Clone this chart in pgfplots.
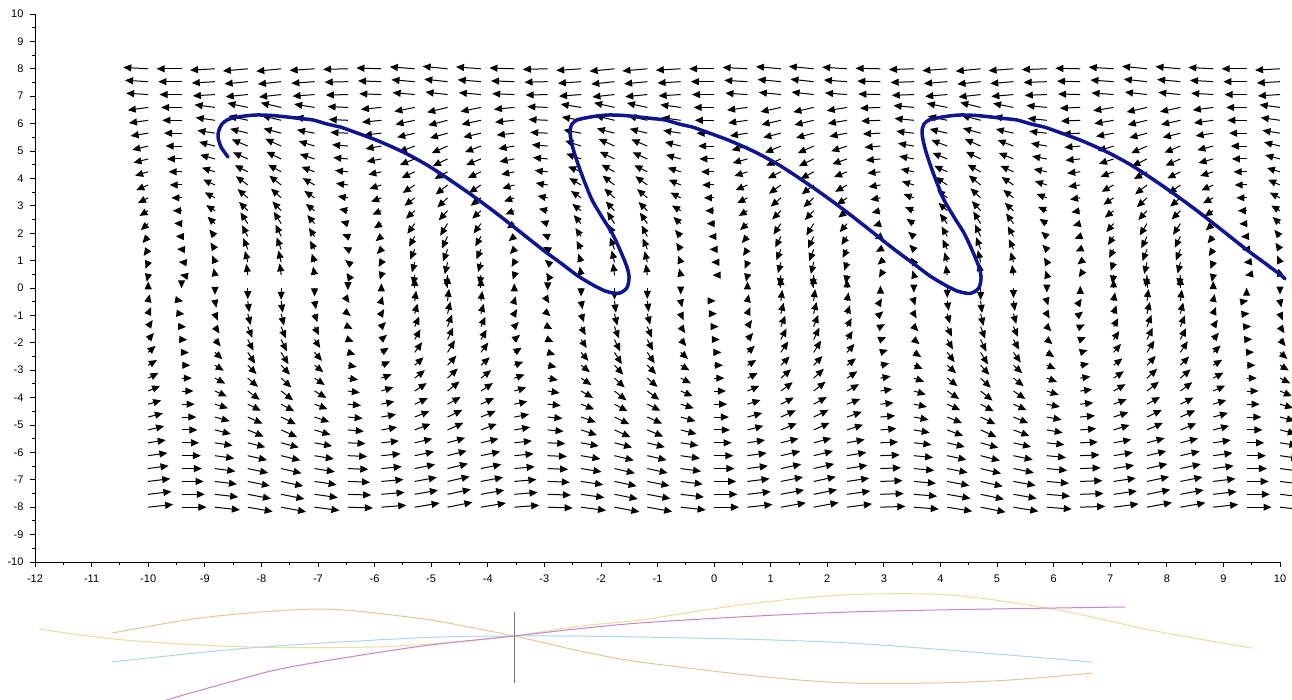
\documentclass[border=0pt]{standalone}
\usepackage{fontspec}
\setmainfont{Liberation Sans}
\usepackage{pgfplots}
\pgfplotsset{compat=1.18}
\usetikzlibrary{arrows.meta}
\definecolor{traj}{RGB}{15,20,145}
\definecolor{cylw}{RGB}{232,222,160}
\definecolor{corg}{RGB}{232,195,150}
\definecolor{cblu}{RGB}{172,212,235}
\definecolor{cpnk}{RGB}{205,130,195}
\definecolor{cgry}{RGB}{120,120,120}
\begin{document}
\begin{tikzpicture}
\begin{axis}[at={(0pt,0pt)},anchor=south west,scale only axis,width=1292pt,height=700pt,
  xmin=0,xmax=1292,ymin=0,ymax=700,y dir=reverse,hide axis,clip=false]
\addplot[cylw,line width=1pt,smooth] coordinates {(39,629) (124,640) (249,647) (373,647) (456,642) (514,636) (580,626) (640,620) (740,605) (841,595) (950,595) (1058,610) (1150,630) (1251,648)};
\addplot[corg,line width=1pt,smooth] coordinates {(112,633) (200,618) (290,610) (344,610) (430,620) (514,636) (580,651) (640,662) (766,677) (849,683) (933,683) (1010,680) (1092,673)};
\addplot[cblu,line width=1pt,smooth] coordinates {(112,662) (249,648) (415,638) (514,636) (640,637) (849,643) (1092,662)};
\addplot[cpnk,line width=1pt,smooth] coordinates {(166,700) (230,682) (290,667) (415,647) (514,636) (640,623) (849,612) (1125,607)};
\addplot[cgry,line width=1pt] coordinates {(514,612) (514,683)};
\end{axis}
\begin{axis}[at={(35pt,138pt)},anchor=south west,scale only axis,width=1245pt,height=548pt,
  xmin=-12,xmax=10,ymin=-10,ymax=10,
  axis x line*=bottom, axis y line*=left,
  xtick={-12,-11,...,10}, ytick={-10,-9,...,10},
  xticklabels={-12,-11,-10,-9,-8,-7,-6,-5,-4,-3,-2,-1,0,1,2,3,4,5,6,7,8,9,10},
  yticklabels={-10,-9,-8,-7,-6,-5,-4,-3,-2,-1,0,1,2,3,4,5,6,7,8,9,10},
  minor x tick num=1, minor y tick num=1,
  tick align=outside, major tick length=5pt, minor tick length=3pt,
  tick style={black,line width=0.8pt}, axis line style={black,line width=0.8pt},
  ticklabel style={font=\fontsize{11}{12}\selectfont},
  xticklabel style={yshift=-4pt}, yticklabel style={xshift=-3pt},
  clip=false]
\addplot[black,line width=1pt,quiver={u=\thisrow{u},v=\thisrow{v},every arrow/.append style={-{Triangle[length=8pt,width=7pt]}}}] table {
x y u v
-10 -8 0.44 0.1
-9.41 -8 0.44 0
-8.82 -8 0.44 -0.1
-8.24 -8 0.44 -0.16
-7.65 -8 0.44 -0.17
-7.06 -8 0.44 -0.12
-6.47 -8 0.44 -0.03
-5.88 -8 0.44 0.07
-5.29 -8 0.44 0.15
-4.71 -8 0.44 0.18
-4.12 -8 0.44 0.15
-3.53 -8 0.44 0.07
-2.94 -8 0.44 -0.03
-2.35 -8 0.44 -0.12
-1.76 -8 0.44 -0.17
-1.18 -8 0.44 -0.16
-0.59 -8 0.44 -0.1
0 -8 0.44 0
0.59 -8 0.44 0.1
1.18 -8 0.44 0.16
1.76 -8 0.44 0.17
2.35 -8 0.44 0.12
2.94 -8 0.44 0.03
3.53 -8 0.44 -0.07
4.12 -8 0.44 -0.15
4.71 -8 0.44 -0.18
5.29 -8 0.44 -0.15
5.88 -8 0.44 -0.07
6.47 -8 0.44 0.03
7.06 -8 0.44 0.12
7.65 -8 0.44 0.17
8.24 -8 0.44 0.16
8.82 -8 0.44 0.1
9.41 -8 0.44 0
10 -8 0.44 -0.1
-10 -7.53 0.41 0.1
-9.41 -7.53 0.41 0
-8.82 -7.53 0.41 -0.1
-8.24 -7.53 0.41 -0.16
-7.65 -7.53 0.41 -0.17
-7.06 -7.53 0.41 -0.12
-6.47 -7.53 0.41 -0.03
-5.88 -7.53 0.41 0.07
-5.29 -7.53 0.41 0.15
-4.71 -7.53 0.41 0.18
-4.12 -7.53 0.41 0.15
-3.53 -7.53 0.41 0.07
-2.94 -7.53 0.41 -0.03
-2.35 -7.53 0.41 -0.12
-1.76 -7.53 0.41 -0.17
-1.18 -7.53 0.41 -0.16
-0.59 -7.53 0.41 -0.1
0 -7.53 0.41 0
0.59 -7.53 0.41 0.1
1.18 -7.53 0.41 0.16
1.76 -7.53 0.41 0.17
2.35 -7.53 0.41 0.12
2.94 -7.53 0.41 0.03
3.53 -7.53 0.41 -0.07
4.12 -7.53 0.41 -0.15
4.71 -7.53 0.41 -0.18
5.29 -7.53 0.41 -0.15
5.88 -7.53 0.41 -0.07
6.47 -7.53 0.41 0.03
7.06 -7.53 0.41 0.12
7.65 -7.53 0.41 0.17
8.24 -7.53 0.41 0.16
8.82 -7.53 0.41 0.1
9.41 -7.53 0.41 0
10 -7.53 0.41 -0.1
-10 -7.06 0.39 0.1
-9.41 -7.06 0.39 0
-8.82 -7.06 0.39 -0.1
-8.24 -7.06 0.39 -0.16
-7.65 -7.06 0.39 -0.17
-7.06 -7.06 0.39 -0.12
-6.47 -7.06 0.39 -0.03
-5.88 -7.06 0.39 0.07
-5.29 -7.06 0.39 0.15
-4.71 -7.06 0.39 0.18
-4.12 -7.06 0.39 0.15
-3.53 -7.06 0.39 0.07
-2.94 -7.06 0.39 -0.03
-2.35 -7.06 0.39 -0.12
-1.76 -7.06 0.39 -0.17
-1.18 -7.06 0.39 -0.16
-0.59 -7.06 0.39 -0.1
0 -7.06 0.39 0
0.59 -7.06 0.39 0.1
1.18 -7.06 0.39 0.16
1.76 -7.06 0.39 0.17
2.35 -7.06 0.39 0.12
2.94 -7.06 0.39 0.03
3.53 -7.06 0.39 -0.07
4.12 -7.06 0.39 -0.15
4.71 -7.06 0.39 -0.18
5.29 -7.06 0.39 -0.15
5.88 -7.06 0.39 -0.07
6.47 -7.06 0.39 0.03
7.06 -7.06 0.39 0.12
7.65 -7.06 0.39 0.17
8.24 -7.06 0.39 0.16
8.82 -7.06 0.39 0.1
9.41 -7.06 0.39 0
10 -7.06 0.39 -0.1
-10 -6.59 0.36 0.1
-9.41 -6.59 0.36 0
-8.82 -6.59 0.36 -0.1
-8.24 -6.59 0.36 -0.16
-7.65 -6.59 0.36 -0.17
-7.06 -6.59 0.36 -0.12
-6.47 -6.59 0.36 -0.03
-5.88 -6.59 0.36 0.07
-5.29 -6.59 0.36 0.15
-4.71 -6.59 0.36 0.18
-4.12 -6.59 0.36 0.15
-3.53 -6.59 0.36 0.07
-2.94 -6.59 0.36 -0.03
-2.35 -6.59 0.36 -0.12
-1.76 -6.59 0.36 -0.17
-1.18 -6.59 0.36 -0.16
-0.59 -6.59 0.36 -0.1
0 -6.59 0.36 0
0.59 -6.59 0.36 0.1
1.18 -6.59 0.36 0.16
1.76 -6.59 0.36 0.17
2.35 -6.59 0.36 0.12
2.94 -6.59 0.36 0.03
3.53 -6.59 0.36 -0.07
4.12 -6.59 0.36 -0.15
4.71 -6.59 0.36 -0.18
5.29 -6.59 0.36 -0.15
5.88 -6.59 0.36 -0.07
6.47 -6.59 0.36 0.03
7.06 -6.59 0.36 0.12
7.65 -6.59 0.36 0.17
8.24 -6.59 0.36 0.16
8.82 -6.59 0.36 0.1
9.41 -6.59 0.36 0
10 -6.59 0.36 -0.1
-10 -6.12 0.34 0.1
-9.41 -6.12 0.34 0
-8.82 -6.12 0.34 -0.1
-8.24 -6.12 0.34 -0.16
-7.65 -6.12 0.34 -0.17
-7.06 -6.12 0.34 -0.12
-6.47 -6.12 0.34 -0.03
-5.88 -6.12 0.34 0.07
-5.29 -6.12 0.34 0.15
-4.71 -6.12 0.34 0.18
-4.12 -6.12 0.34 0.15
-3.53 -6.12 0.34 0.07
-2.94 -6.12 0.34 -0.03
-2.35 -6.12 0.34 -0.12
-1.76 -6.12 0.34 -0.17
-1.18 -6.12 0.34 -0.16
-0.59 -6.12 0.34 -0.1
0 -6.12 0.34 0
0.59 -6.12 0.34 0.1
1.18 -6.12 0.34 0.16
1.76 -6.12 0.34 0.17
2.35 -6.12 0.34 0.12
2.94 -6.12 0.34 0.03
3.53 -6.12 0.34 -0.07
4.12 -6.12 0.34 -0.15
4.71 -6.12 0.34 -0.18
5.29 -6.12 0.34 -0.15
5.88 -6.12 0.34 -0.07
6.47 -6.12 0.34 0.03
7.06 -6.12 0.34 0.12
7.65 -6.12 0.34 0.17
8.24 -6.12 0.34 0.16
8.82 -6.12 0.34 0.1
9.41 -6.12 0.34 0
10 -6.12 0.34 -0.1
-10 -5.65 0.31 0.1
-9.41 -5.65 0.31 0
-8.82 -5.65 0.31 -0.1
-8.24 -5.65 0.31 -0.16
-7.65 -5.65 0.31 -0.17
-7.06 -5.65 0.31 -0.12
-6.47 -5.65 0.31 -0.03
-5.88 -5.65 0.31 0.07
-5.29 -5.65 0.31 0.15
-4.71 -5.65 0.31 0.18
-4.12 -5.65 0.31 0.15
-3.53 -5.65 0.31 0.07
-2.94 -5.65 0.31 -0.03
-2.35 -5.65 0.31 -0.12
-1.76 -5.65 0.31 -0.17
-1.18 -5.65 0.31 -0.16
-0.59 -5.65 0.31 -0.1
0 -5.65 0.31 0
0.59 -5.65 0.31 0.1
1.18 -5.65 0.31 0.16
1.76 -5.65 0.31 0.17
2.35 -5.65 0.31 0.12
2.94 -5.65 0.31 0.03
3.53 -5.65 0.31 -0.07
4.12 -5.65 0.31 -0.15
4.71 -5.65 0.31 -0.18
5.29 -5.65 0.31 -0.15
5.88 -5.65 0.31 -0.07
6.47 -5.65 0.31 0.03
7.06 -5.65 0.31 0.12
7.65 -5.65 0.31 0.17
8.24 -5.65 0.31 0.16
8.82 -5.65 0.31 0.1
9.41 -5.65 0.31 0
10 -5.65 0.31 -0.1
-10 -5.18 0.28 0.14
-9.41 -5.18 0.28 0
-8.82 -5.18 0.28 -0.15
-8.24 -5.18 0.28 -0.24
-7.65 -5.18 0.28 -0.26
-7.06 -5.18 0.28 -0.18
-6.47 -5.18 0.28 -0.05
-5.88 -5.18 0.28 0.1
-5.29 -5.18 0.28 0.22
-4.71 -5.18 0.28 0.26
-4.12 -5.18 0.28 0.22
-3.53 -5.18 0.28 0.1
-2.94 -5.18 0.28 -0.05
-2.35 -5.18 0.28 -0.19
-1.76 -5.18 0.28 -0.26
-1.18 -5.18 0.28 -0.24
-0.59 -5.18 0.28 -0.15
0 -5.18 0.28 0
0.59 -5.18 0.28 0.15
1.18 -5.18 0.28 0.24
1.76 -5.18 0.28 0.26
2.35 -5.18 0.28 0.19
2.94 -5.18 0.28 0.05
3.53 -5.18 0.28 -0.1
4.12 -5.18 0.28 -0.22
4.71 -5.18 0.28 -0.26
5.29 -5.18 0.28 -0.22
5.88 -5.18 0.28 -0.1
6.47 -5.18 0.28 0.05
7.06 -5.18 0.28 0.18
7.65 -5.18 0.28 0.26
8.24 -5.18 0.28 0.24
8.82 -5.18 0.28 0.15
9.41 -5.18 0.28 0
10 -5.18 0.28 -0.14
-10 -4.71 0.26 0.14
-9.41 -4.71 0.26 0
-8.82 -4.71 0.26 -0.15
-8.24 -4.71 0.26 -0.24
-7.65 -4.71 0.26 -0.26
-7.06 -4.71 0.26 -0.18
-6.47 -4.71 0.26 -0.05
-5.88 -4.71 0.26 0.1
-5.29 -4.71 0.26 0.22
-4.71 -4.71 0.26 0.26
-4.12 -4.71 0.26 0.22
-3.53 -4.71 0.26 0.1
-2.94 -4.71 0.26 -0.05
-2.35 -4.71 0.26 -0.19
-1.76 -4.71 0.26 -0.26
-1.18 -4.71 0.26 -0.24
-0.59 -4.71 0.26 -0.15
0 -4.71 0.26 0
0.59 -4.71 0.26 0.15
1.18 -4.71 0.26 0.24
1.76 -4.71 0.26 0.26
2.35 -4.71 0.26 0.19
2.94 -4.71 0.26 0.05
3.53 -4.71 0.26 -0.1
4.12 -4.71 0.26 -0.22
4.71 -4.71 0.26 -0.26
5.29 -4.71 0.26 -0.22
5.88 -4.71 0.26 -0.1
6.47 -4.71 0.26 0.05
7.06 -4.71 0.26 0.18
7.65 -4.71 0.26 0.26
8.24 -4.71 0.26 0.24
8.82 -4.71 0.26 0.15
9.41 -4.71 0.26 0
10 -4.71 0.26 -0.14
-10 -4.24 0.23 0.14
-9.41 -4.24 0.23 0
-8.82 -4.24 0.23 -0.15
-8.24 -4.24 0.23 -0.24
-7.65 -4.24 0.23 -0.26
-7.06 -4.24 0.23 -0.18
-6.47 -4.24 0.23 -0.05
-5.88 -4.24 0.23 0.1
-5.29 -4.24 0.23 0.22
-4.71 -4.24 0.23 0.26
-4.12 -4.24 0.23 0.22
-3.53 -4.24 0.23 0.1
-2.94 -4.24 0.23 -0.05
-2.35 -4.24 0.23 -0.19
-1.76 -4.24 0.23 -0.26
-1.18 -4.24 0.23 -0.24
-0.59 -4.24 0.23 -0.15
0 -4.24 0.23 0
0.59 -4.24 0.23 0.15
1.18 -4.24 0.23 0.24
1.76 -4.24 0.23 0.26
2.35 -4.24 0.23 0.19
2.94 -4.24 0.23 0.05
3.53 -4.24 0.23 -0.1
4.12 -4.24 0.23 -0.22
4.71 -4.24 0.23 -0.26
5.29 -4.24 0.23 -0.22
5.88 -4.24 0.23 -0.1
6.47 -4.24 0.23 0.05
7.06 -4.24 0.23 0.18
7.65 -4.24 0.23 0.26
8.24 -4.24 0.23 0.24
8.82 -4.24 0.23 0.15
9.41 -4.24 0.23 0
10 -4.24 0.23 -0.14
-10 -3.76 0.21 0.19
-9.41 -3.76 0.21 0
-8.82 -3.76 0.21 -0.2
-8.24 -3.76 0.21 -0.32
-7.65 -3.76 0.21 -0.34
-7.06 -3.76 0.21 -0.25
-6.47 -3.76 0.21 -0.06
-5.88 -3.76 0.21 0.14
-5.29 -3.76 0.21 0.29
-4.71 -3.76 0.21 0.35
-4.12 -3.76 0.21 0.29
-3.53 -3.76 0.21 0.13
-2.94 -3.76 0.21 -0.07
-2.35 -3.76 0.21 -0.25
-1.76 -3.76 0.21 -0.34
-1.18 -3.76 0.21 -0.32
-0.59 -3.76 0.21 -0.19
0 -3.76 0.21 0
0.59 -3.76 0.21 0.19
1.18 -3.76 0.21 0.32
1.76 -3.76 0.21 0.34
2.35 -3.76 0.21 0.25
2.94 -3.76 0.21 0.07
3.53 -3.76 0.21 -0.13
4.12 -3.76 0.21 -0.29
4.71 -3.76 0.21 -0.35
5.29 -3.76 0.21 -0.29
5.88 -3.76 0.21 -0.14
6.47 -3.76 0.21 0.06
7.06 -3.76 0.21 0.25
7.65 -3.76 0.21 0.34
8.24 -3.76 0.21 0.32
8.82 -3.76 0.21 0.2
9.41 -3.76 0.21 0
10 -3.76 0.21 -0.19
-10 -3.29 0.18 0.19
-9.41 -3.29 0.18 0
-8.82 -3.29 0.18 -0.2
-8.24 -3.29 0.18 -0.32
-7.65 -3.29 0.18 -0.34
-7.06 -3.29 0.18 -0.25
-6.47 -3.29 0.18 -0.06
-5.88 -3.29 0.18 0.14
-5.29 -3.29 0.18 0.29
-4.71 -3.29 0.18 0.35
-4.12 -3.29 0.18 0.29
-3.53 -3.29 0.18 0.13
-2.94 -3.29 0.18 -0.07
-2.35 -3.29 0.18 -0.25
-1.76 -3.29 0.18 -0.34
-1.18 -3.29 0.18 -0.32
-0.59 -3.29 0.18 -0.19
0 -3.29 0.18 0
0.59 -3.29 0.18 0.19
1.18 -3.29 0.18 0.32
1.76 -3.29 0.18 0.34
2.35 -3.29 0.18 0.25
2.94 -3.29 0.18 0.07
3.53 -3.29 0.18 -0.13
4.12 -3.29 0.18 -0.29
4.71 -3.29 0.18 -0.35
5.29 -3.29 0.18 -0.29
5.88 -3.29 0.18 -0.14
6.47 -3.29 0.18 0.06
7.06 -3.29 0.18 0.25
7.65 -3.29 0.18 0.34
8.24 -3.29 0.18 0.32
8.82 -3.29 0.18 0.2
9.41 -3.29 0.18 0
10 -3.29 0.18 -0.19
-10 -2.82 0.155 0.19
-9.41 -2.82 0.155 0
-8.82 -2.82 0.155 -0.2
-8.24 -2.82 0.155 -0.32
-7.65 -2.82 0.155 -0.34
-7.06 -2.82 0.155 -0.25
-6.47 -2.82 0.155 -0.06
-5.88 -2.82 0.155 0.14
-5.29 -2.82 0.155 0.29
-4.71 -2.82 0.155 0.35
-4.12 -2.82 0.155 0.29
-3.53 -2.82 0.155 0.13
-2.94 -2.82 0.155 -0.07
-2.35 -2.82 0.155 -0.25
-1.76 -2.82 0.155 -0.34
-1.18 -2.82 0.155 -0.32
-0.59 -2.82 0.155 -0.19
0 -2.82 0.155 0
0.59 -2.82 0.155 0.19
1.18 -2.82 0.155 0.32
1.76 -2.82 0.155 0.34
2.35 -2.82 0.155 0.25
2.94 -2.82 0.155 0.07
3.53 -2.82 0.155 -0.13
4.12 -2.82 0.155 -0.29
4.71 -2.82 0.155 -0.35
5.29 -2.82 0.155 -0.29
5.88 -2.82 0.155 -0.14
6.47 -2.82 0.155 0.06
7.06 -2.82 0.155 0.25
7.65 -2.82 0.155 0.34
8.24 -2.82 0.155 0.32
8.82 -2.82 0.155 0.2
9.41 -2.82 0.155 0
10 -2.82 0.155 -0.19
-10 -2.35 0.13 0.24
-9.41 -2.35 0.13 -0.01
-8.82 -2.35 0.13 -0.25
-8.24 -2.35 0.13 -0.41
-7.65 -2.35 0.13 -0.43
-7.06 -2.35 0.13 -0.31
-6.47 -2.35 0.13 -0.08
-5.88 -2.35 0.13 0.17
-5.29 -2.35 0.13 0.37
-4.71 -2.35 0.13 0.44
-4.12 -2.35 0.13 0.36
-3.53 -2.35 0.13 0.17
-2.94 -2.35 0.13 -0.09
-2.35 -2.35 0.13 -0.31
-1.76 -2.35 0.13 -0.43
-1.18 -2.35 0.13 -0.4
-0.59 -2.35 0.13 -0.24
0 -2.35 0.13 0
0.59 -2.35 0.13 0.24
1.18 -2.35 0.13 0.4
1.76 -2.35 0.13 0.43
2.35 -2.35 0.13 0.31
2.94 -2.35 0.13 0.09
3.53 -2.35 0.13 -0.17
4.12 -2.35 0.13 -0.36
4.71 -2.35 0.13 -0.44
5.29 -2.35 0.13 -0.37
5.88 -2.35 0.13 -0.17
6.47 -2.35 0.13 0.08
7.06 -2.35 0.13 0.31
7.65 -2.35 0.13 0.43
8.24 -2.35 0.13 0.41
8.82 -2.35 0.13 0.25
9.41 -2.35 0.13 0.01
10 -2.35 0.13 -0.24
-10 -1.88 0.1 0.24
-9.41 -1.88 0.1 -0.01
-8.82 -1.88 0.1 -0.25
-8.24 -1.88 0.1 -0.41
-7.65 -1.88 0.1 -0.43
-7.06 -1.88 0.1 -0.31
-6.47 -1.88 0.1 -0.08
-5.88 -1.88 0.1 0.17
-5.29 -1.88 0.1 0.37
-4.71 -1.88 0.1 0.44
-4.12 -1.88 0.1 0.36
-3.53 -1.88 0.1 0.17
-2.94 -1.88 0.1 -0.09
-2.35 -1.88 0.1 -0.31
-1.76 -1.88 0.1 -0.43
-1.18 -1.88 0.1 -0.4
-0.59 -1.88 0.1 -0.24
0 -1.88 0.1 0
0.59 -1.88 0.1 0.24
1.18 -1.88 0.1 0.4
1.76 -1.88 0.1 0.43
2.35 -1.88 0.1 0.31
2.94 -1.88 0.1 0.09
3.53 -1.88 0.1 -0.17
4.12 -1.88 0.1 -0.36
4.71 -1.88 0.1 -0.44
5.29 -1.88 0.1 -0.37
5.88 -1.88 0.1 -0.17
6.47 -1.88 0.1 0.08
7.06 -1.88 0.1 0.31
7.65 -1.88 0.1 0.43
8.24 -1.88 0.1 0.41
8.82 -1.88 0.1 0.25
9.41 -1.88 0.1 0.01
10 -1.88 0.1 -0.24
-10 -1.41 0.08 0.24
-9.41 -1.41 0.08 -0.01
-8.82 -1.41 0.08 -0.25
-8.24 -1.41 0.08 -0.41
-7.65 -1.41 0.08 -0.43
-7.06 -1.41 0.08 -0.31
-6.47 -1.41 0.08 -0.08
-5.88 -1.41 0.08 0.17
-5.29 -1.41 0.08 0.37
-4.71 -1.41 0.08 0.44
-4.12 -1.41 0.08 0.36
-3.53 -1.41 0.08 0.17
-2.94 -1.41 0.08 -0.09
-2.35 -1.41 0.08 -0.31
-1.76 -1.41 0.08 -0.43
-1.18 -1.41 0.08 -0.4
-0.59 -1.41 0.08 -0.24
0 -1.41 0.08 0
0.59 -1.41 0.08 0.24
1.18 -1.41 0.08 0.4
1.76 -1.41 0.08 0.43
2.35 -1.41 0.08 0.31
2.94 -1.41 0.08 0.09
3.53 -1.41 0.08 -0.17
4.12 -1.41 0.08 -0.36
4.71 -1.41 0.08 -0.44
5.29 -1.41 0.08 -0.37
5.88 -1.41 0.08 -0.17
6.47 -1.41 0.08 0.08
7.06 -1.41 0.08 0.31
7.65 -1.41 0.08 0.43
8.24 -1.41 0.08 0.41
8.82 -1.41 0.08 0.25
9.41 -1.41 0.08 0.01
10 -1.41 0.08 -0.24
-10 -0.94 0.05 0.24
-9.41 -0.94 0.05 -0.01
-8.82 -0.94 0.05 -0.25
-8.24 -0.94 0.05 -0.41
-7.65 -0.94 0.05 -0.43
-7.06 -0.94 0.05 -0.31
-6.47 -0.94 0.05 -0.08
-5.88 -0.94 0.05 0.17
-5.29 -0.94 0.05 0.37
-4.71 -0.94 0.05 0.44
-4.12 -0.94 0.05 0.36
-3.53 -0.94 0.05 0.17
-2.94 -0.94 0.05 -0.09
-2.35 -0.94 0.05 -0.31
-1.76 -0.94 0.05 -0.43
-1.18 -0.94 0.05 -0.4
-0.59 -0.94 0.05 -0.24
0 -0.94 0.05 0
0.59 -0.94 0.05 0.24
1.18 -0.94 0.05 0.4
1.76 -0.94 0.05 0.43
2.35 -0.94 0.05 0.31
2.94 -0.94 0.05 0.09
3.53 -0.94 0.05 -0.17
4.12 -0.94 0.05 -0.36
4.71 -0.94 0.05 -0.44
5.29 -0.94 0.05 -0.37
5.88 -0.94 0.05 -0.17
6.47 -0.94 0.05 0.08
7.06 -0.94 0.05 0.31
7.65 -0.94 0.05 0.43
8.24 -0.94 0.05 0.41
8.82 -0.94 0.05 0.25
9.41 -0.94 0.05 0.01
10 -0.94 0.05 -0.24
-10 -0.47 0.026 0.24
-9.41 -0.47 0.026 -0.01
-8.82 -0.47 0.026 -0.25
-8.24 -0.47 0.026 -0.41
-7.65 -0.47 0.026 -0.43
-7.06 -0.47 0.026 -0.31
-6.47 -0.47 0.026 -0.08
-5.88 -0.47 0.026 0.17
-5.29 -0.47 0.026 0.37
-4.71 -0.47 0.026 0.44
-4.12 -0.47 0.026 0.36
-3.53 -0.47 0.026 0.17
-2.94 -0.47 0.026 -0.09
-2.35 -0.47 0.026 -0.31
-1.76 -0.47 0.026 -0.43
-1.18 -0.47 0.026 -0.4
-0.59 -0.47 0.026 -0.24
0 -0.47 0.026 0
0.59 -0.47 0.026 0.24
1.18 -0.47 0.026 0.4
1.76 -0.47 0.026 0.43
2.35 -0.47 0.026 0.31
2.94 -0.47 0.026 0.09
3.53 -0.47 0.026 -0.17
4.12 -0.47 0.026 -0.36
4.71 -0.47 0.026 -0.44
5.29 -0.47 0.026 -0.37
5.88 -0.47 0.026 -0.17
6.47 -0.47 0.026 0.08
7.06 -0.47 0.026 0.31
7.65 -0.47 0.026 0.43
8.24 -0.47 0.026 0.41
8.82 -0.47 0.026 0.25
9.41 -0.47 0.026 0.01
10 -0.47 0.026 -0.24
-10 0 0 0.24
-9.41 0 0 -0.01
-8.82 0 0 -0.25
-8.24 0 0 -0.41
-7.65 0 0 -0.43
-7.06 0 0 -0.31
-6.47 0 0 -0.08
-5.88 0 0 0.17
-5.29 0 0 0.37
-4.71 0 0 0.44
-4.12 0 0 0.36
-3.53 0 0 0.17
-2.94 0 0 -0.09
-2.35 0 0 -0.31
-1.76 0 0 -0.43
-1.18 0 0 -0.4
-0.59 0 0 -0.24
0.59 0 0 0.24
1.18 0 0 0.4
1.76 0 0 0.43
2.35 0 0 0.31
2.94 0 0 0.09
3.53 0 0 -0.17
4.12 0 0 -0.36
4.71 0 0 -0.44
5.29 0 0 -0.37
5.88 0 0 -0.17
6.47 0 0 0.08
7.06 0 0 0.31
7.65 0 0 0.43
8.24 0 0 0.41
8.82 0 0 0.25
9.41 0 0 0.01
10 0 0 -0.24
-10 0.47 -0.026 -0.24
-9.41 0.47 -0.026 0.01
-8.82 0.47 -0.026 0.25
-8.24 0.47 -0.026 0.41
-7.65 0.47 -0.026 0.43
-7.06 0.47 -0.026 0.31
-6.47 0.47 -0.026 0.08
-5.88 0.47 -0.026 -0.17
-5.29 0.47 -0.026 -0.37
-4.71 0.47 -0.026 -0.44
-4.12 0.47 -0.026 -0.36
-3.53 0.47 -0.026 -0.17
-2.94 0.47 -0.026 0.09
-2.35 0.47 -0.026 0.31
-1.76 0.47 -0.026 0.43
-1.18 0.47 -0.026 0.4
-0.59 0.47 -0.026 0.24
0 0.47 -0.026 0
0.59 0.47 -0.026 -0.24
1.18 0.47 -0.026 -0.4
1.76 0.47 -0.026 -0.43
2.35 0.47 -0.026 -0.31
2.94 0.47 -0.026 -0.09
3.53 0.47 -0.026 0.17
4.12 0.47 -0.026 0.36
4.71 0.47 -0.026 0.44
5.29 0.47 -0.026 0.37
5.88 0.47 -0.026 0.17
6.47 0.47 -0.026 -0.08
7.06 0.47 -0.026 -0.31
7.65 0.47 -0.026 -0.43
8.24 0.47 -0.026 -0.41
8.82 0.47 -0.026 -0.25
9.41 0.47 -0.026 -0.01
10 0.47 -0.026 0.24
-10 0.94 -0.05 -0.24
-9.41 0.94 -0.05 0.01
-8.82 0.94 -0.05 0.25
-8.24 0.94 -0.05 0.41
-7.65 0.94 -0.05 0.43
-7.06 0.94 -0.05 0.31
-6.47 0.94 -0.05 0.08
-5.88 0.94 -0.05 -0.17
-5.29 0.94 -0.05 -0.37
-4.71 0.94 -0.05 -0.44
-4.12 0.94 -0.05 -0.36
-3.53 0.94 -0.05 -0.17
-2.94 0.94 -0.05 0.09
-2.35 0.94 -0.05 0.31
-1.76 0.94 -0.05 0.43
-1.18 0.94 -0.05 0.4
-0.59 0.94 -0.05 0.24
0 0.94 -0.05 0
0.59 0.94 -0.05 -0.24
1.18 0.94 -0.05 -0.4
1.76 0.94 -0.05 -0.43
2.35 0.94 -0.05 -0.31
2.94 0.94 -0.05 -0.09
3.53 0.94 -0.05 0.17
4.12 0.94 -0.05 0.36
4.71 0.94 -0.05 0.44
5.29 0.94 -0.05 0.37
5.88 0.94 -0.05 0.17
6.47 0.94 -0.05 -0.08
7.06 0.94 -0.05 -0.31
7.65 0.94 -0.05 -0.43
8.24 0.94 -0.05 -0.41
8.82 0.94 -0.05 -0.25
9.41 0.94 -0.05 -0.01
10 0.94 -0.05 0.24
-10 1.41 -0.08 -0.24
-9.41 1.41 -0.08 0.01
-8.82 1.41 -0.08 0.25
-8.24 1.41 -0.08 0.41
-7.65 1.41 -0.08 0.43
-7.06 1.41 -0.08 0.31
-6.47 1.41 -0.08 0.08
-5.88 1.41 -0.08 -0.17
-5.29 1.41 -0.08 -0.37
-4.71 1.41 -0.08 -0.44
-4.12 1.41 -0.08 -0.36
-3.53 1.41 -0.08 -0.17
-2.94 1.41 -0.08 0.09
-2.35 1.41 -0.08 0.31
-1.76 1.41 -0.08 0.43
-1.18 1.41 -0.08 0.4
-0.59 1.41 -0.08 0.24
0 1.41 -0.08 0
0.59 1.41 -0.08 -0.24
1.18 1.41 -0.08 -0.4
1.76 1.41 -0.08 -0.43
2.35 1.41 -0.08 -0.31
2.94 1.41 -0.08 -0.09
3.53 1.41 -0.08 0.17
4.12 1.41 -0.08 0.36
4.71 1.41 -0.08 0.44
5.29 1.41 -0.08 0.37
5.88 1.41 -0.08 0.17
6.47 1.41 -0.08 -0.08
7.06 1.41 -0.08 -0.31
7.65 1.41 -0.08 -0.43
8.24 1.41 -0.08 -0.41
8.82 1.41 -0.08 -0.25
9.41 1.41 -0.08 -0.01
10 1.41 -0.08 0.24
-10 1.88 -0.1 -0.24
-9.41 1.88 -0.1 0.01
-8.82 1.88 -0.1 0.25
-8.24 1.88 -0.1 0.41
-7.65 1.88 -0.1 0.43
-7.06 1.88 -0.1 0.31
-6.47 1.88 -0.1 0.08
-5.88 1.88 -0.1 -0.17
-5.29 1.88 -0.1 -0.37
-4.71 1.88 -0.1 -0.44
-4.12 1.88 -0.1 -0.36
-3.53 1.88 -0.1 -0.17
-2.94 1.88 -0.1 0.09
-2.35 1.88 -0.1 0.31
-1.76 1.88 -0.1 0.43
-1.18 1.88 -0.1 0.4
-0.59 1.88 -0.1 0.24
0 1.88 -0.1 0
0.59 1.88 -0.1 -0.24
1.18 1.88 -0.1 -0.4
1.76 1.88 -0.1 -0.43
2.35 1.88 -0.1 -0.31
2.94 1.88 -0.1 -0.09
3.53 1.88 -0.1 0.17
4.12 1.88 -0.1 0.36
4.71 1.88 -0.1 0.44
5.29 1.88 -0.1 0.37
5.88 1.88 -0.1 0.17
6.47 1.88 -0.1 -0.08
7.06 1.88 -0.1 -0.31
7.65 1.88 -0.1 -0.43
8.24 1.88 -0.1 -0.41
8.82 1.88 -0.1 -0.25
9.41 1.88 -0.1 -0.01
10 1.88 -0.1 0.24
-10 2.35 -0.13 -0.24
-9.41 2.35 -0.13 0.01
-8.82 2.35 -0.13 0.25
-8.24 2.35 -0.13 0.41
-7.65 2.35 -0.13 0.43
-7.06 2.35 -0.13 0.31
-6.47 2.35 -0.13 0.08
-5.88 2.35 -0.13 -0.17
-5.29 2.35 -0.13 -0.37
-4.71 2.35 -0.13 -0.44
-4.12 2.35 -0.13 -0.36
-3.53 2.35 -0.13 -0.17
-2.94 2.35 -0.13 0.09
-2.35 2.35 -0.13 0.31
-1.76 2.35 -0.13 0.43
-1.18 2.35 -0.13 0.4
-0.59 2.35 -0.13 0.24
0 2.35 -0.13 0
0.59 2.35 -0.13 -0.24
1.18 2.35 -0.13 -0.4
1.76 2.35 -0.13 -0.43
2.35 2.35 -0.13 -0.31
2.94 2.35 -0.13 -0.09
3.53 2.35 -0.13 0.17
4.12 2.35 -0.13 0.36
4.71 2.35 -0.13 0.44
5.29 2.35 -0.13 0.37
5.88 2.35 -0.13 0.17
6.47 2.35 -0.13 -0.08
7.06 2.35 -0.13 -0.31
7.65 2.35 -0.13 -0.43
8.24 2.35 -0.13 -0.41
8.82 2.35 -0.13 -0.25
9.41 2.35 -0.13 -0.01
10 2.35 -0.13 0.24
-10 2.82 -0.155 -0.19
-9.41 2.82 -0.155 0
-8.82 2.82 -0.155 0.2
-8.24 2.82 -0.155 0.32
-7.65 2.82 -0.155 0.34
-7.06 2.82 -0.155 0.25
-6.47 2.82 -0.155 0.06
-5.88 2.82 -0.155 -0.14
-5.29 2.82 -0.155 -0.29
-4.71 2.82 -0.155 -0.35
-4.12 2.82 -0.155 -0.29
-3.53 2.82 -0.155 -0.13
-2.94 2.82 -0.155 0.07
-2.35 2.82 -0.155 0.25
-1.76 2.82 -0.155 0.34
-1.18 2.82 -0.155 0.32
-0.59 2.82 -0.155 0.19
0 2.82 -0.155 0
0.59 2.82 -0.155 -0.19
1.18 2.82 -0.155 -0.32
1.76 2.82 -0.155 -0.34
2.35 2.82 -0.155 -0.25
2.94 2.82 -0.155 -0.07
3.53 2.82 -0.155 0.13
4.12 2.82 -0.155 0.29
4.71 2.82 -0.155 0.35
5.29 2.82 -0.155 0.29
5.88 2.82 -0.155 0.14
6.47 2.82 -0.155 -0.06
7.06 2.82 -0.155 -0.25
7.65 2.82 -0.155 -0.34
8.24 2.82 -0.155 -0.32
8.82 2.82 -0.155 -0.2
9.41 2.82 -0.155 0
10 2.82 -0.155 0.19
-10 3.29 -0.18 -0.19
-9.41 3.29 -0.18 0
-8.82 3.29 -0.18 0.2
-8.24 3.29 -0.18 0.32
-7.65 3.29 -0.18 0.34
-7.06 3.29 -0.18 0.25
-6.47 3.29 -0.18 0.06
-5.88 3.29 -0.18 -0.14
-5.29 3.29 -0.18 -0.29
-4.71 3.29 -0.18 -0.35
-4.12 3.29 -0.18 -0.29
-3.53 3.29 -0.18 -0.13
-2.94 3.29 -0.18 0.07
-2.35 3.29 -0.18 0.25
-1.76 3.29 -0.18 0.34
-1.18 3.29 -0.18 0.32
-0.59 3.29 -0.18 0.19
0 3.29 -0.18 0
0.59 3.29 -0.18 -0.19
1.18 3.29 -0.18 -0.32
1.76 3.29 -0.18 -0.34
2.35 3.29 -0.18 -0.25
2.94 3.29 -0.18 -0.07
3.53 3.29 -0.18 0.13
4.12 3.29 -0.18 0.29
4.71 3.29 -0.18 0.35
5.29 3.29 -0.18 0.29
5.88 3.29 -0.18 0.14
6.47 3.29 -0.18 -0.06
7.06 3.29 -0.18 -0.25
7.65 3.29 -0.18 -0.34
8.24 3.29 -0.18 -0.32
8.82 3.29 -0.18 -0.2
9.41 3.29 -0.18 0
10 3.29 -0.18 0.19
-10 3.76 -0.21 -0.19
-9.41 3.76 -0.21 0
-8.82 3.76 -0.21 0.2
-8.24 3.76 -0.21 0.32
-7.65 3.76 -0.21 0.34
-7.06 3.76 -0.21 0.25
-6.47 3.76 -0.21 0.06
-5.88 3.76 -0.21 -0.14
-5.29 3.76 -0.21 -0.29
-4.71 3.76 -0.21 -0.35
-4.12 3.76 -0.21 -0.29
-3.53 3.76 -0.21 -0.13
-2.94 3.76 -0.21 0.07
-2.35 3.76 -0.21 0.25
-1.76 3.76 -0.21 0.34
-1.18 3.76 -0.21 0.32
-0.59 3.76 -0.21 0.19
0 3.76 -0.21 0
0.59 3.76 -0.21 -0.19
1.18 3.76 -0.21 -0.32
1.76 3.76 -0.21 -0.34
2.35 3.76 -0.21 -0.25
2.94 3.76 -0.21 -0.07
3.53 3.76 -0.21 0.13
4.12 3.76 -0.21 0.29
4.71 3.76 -0.21 0.35
5.29 3.76 -0.21 0.29
5.88 3.76 -0.21 0.14
6.47 3.76 -0.21 -0.06
7.06 3.76 -0.21 -0.25
7.65 3.76 -0.21 -0.34
8.24 3.76 -0.21 -0.32
8.82 3.76 -0.21 -0.2
9.41 3.76 -0.21 0
10 3.76 -0.21 0.19
-10 4.24 -0.23 -0.14
-9.41 4.24 -0.23 0
-8.82 4.24 -0.23 0.15
-8.24 4.24 -0.23 0.24
-7.65 4.24 -0.23 0.26
-7.06 4.24 -0.23 0.18
-6.47 4.24 -0.23 0.05
-5.88 4.24 -0.23 -0.1
-5.29 4.24 -0.23 -0.22
-4.71 4.24 -0.23 -0.26
-4.12 4.24 -0.23 -0.22
-3.53 4.24 -0.23 -0.1
-2.94 4.24 -0.23 0.05
-2.35 4.24 -0.23 0.19
-1.76 4.24 -0.23 0.26
-1.18 4.24 -0.23 0.24
-0.59 4.24 -0.23 0.15
0 4.24 -0.23 0
0.59 4.24 -0.23 -0.15
1.18 4.24 -0.23 -0.24
1.76 4.24 -0.23 -0.26
2.35 4.24 -0.23 -0.19
2.94 4.24 -0.23 -0.05
3.53 4.24 -0.23 0.1
4.12 4.24 -0.23 0.22
4.71 4.24 -0.23 0.26
5.29 4.24 -0.23 0.22
5.88 4.24 -0.23 0.1
6.47 4.24 -0.23 -0.05
7.06 4.24 -0.23 -0.18
7.65 4.24 -0.23 -0.26
8.24 4.24 -0.23 -0.24
8.82 4.24 -0.23 -0.15
9.41 4.24 -0.23 0
10 4.24 -0.23 0.14
-10 4.71 -0.26 -0.14
-9.41 4.71 -0.26 0
-8.82 4.71 -0.26 0.15
-8.24 4.71 -0.26 0.24
-7.65 4.71 -0.26 0.26
-7.06 4.71 -0.26 0.18
-6.47 4.71 -0.26 0.05
-5.88 4.71 -0.26 -0.1
-5.29 4.71 -0.26 -0.22
-4.71 4.71 -0.26 -0.26
-4.12 4.71 -0.26 -0.22
-3.53 4.71 -0.26 -0.1
-2.94 4.71 -0.26 0.05
-2.35 4.71 -0.26 0.19
-1.76 4.71 -0.26 0.26
-1.18 4.71 -0.26 0.24
-0.59 4.71 -0.26 0.15
0 4.71 -0.26 0
0.59 4.71 -0.26 -0.15
1.18 4.71 -0.26 -0.24
1.76 4.71 -0.26 -0.26
2.35 4.71 -0.26 -0.19
2.94 4.71 -0.26 -0.05
3.53 4.71 -0.26 0.1
4.12 4.71 -0.26 0.22
4.71 4.71 -0.26 0.26
5.29 4.71 -0.26 0.22
5.88 4.71 -0.26 0.1
6.47 4.71 -0.26 -0.05
7.06 4.71 -0.26 -0.18
7.65 4.71 -0.26 -0.26
8.24 4.71 -0.26 -0.24
8.82 4.71 -0.26 -0.15
9.41 4.71 -0.26 0
10 4.71 -0.26 0.14
-10 5.18 -0.28 -0.14
-9.41 5.18 -0.28 0
-8.82 5.18 -0.28 0.15
-8.24 5.18 -0.28 0.24
-7.65 5.18 -0.28 0.26
-7.06 5.18 -0.28 0.18
-6.47 5.18 -0.28 0.05
-5.88 5.18 -0.28 -0.1
-5.29 5.18 -0.28 -0.22
-4.71 5.18 -0.28 -0.26
-4.12 5.18 -0.28 -0.22
-3.53 5.18 -0.28 -0.1
-2.94 5.18 -0.28 0.05
-2.35 5.18 -0.28 0.19
-1.76 5.18 -0.28 0.26
-1.18 5.18 -0.28 0.24
-0.59 5.18 -0.28 0.15
0 5.18 -0.28 0
0.59 5.18 -0.28 -0.15
1.18 5.18 -0.28 -0.24
1.76 5.18 -0.28 -0.26
2.35 5.18 -0.28 -0.19
2.94 5.18 -0.28 -0.05
3.53 5.18 -0.28 0.1
4.12 5.18 -0.28 0.22
4.71 5.18 -0.28 0.26
5.29 5.18 -0.28 0.22
5.88 5.18 -0.28 0.1
6.47 5.18 -0.28 -0.05
7.06 5.18 -0.28 -0.18
7.65 5.18 -0.28 -0.26
8.24 5.18 -0.28 -0.24
8.82 5.18 -0.28 -0.15
9.41 5.18 -0.28 0
10 5.18 -0.28 0.14
-10 5.65 -0.31 -0.1
-9.41 5.65 -0.31 0
-8.82 5.65 -0.31 0.1
-8.24 5.65 -0.31 0.16
-7.65 5.65 -0.31 0.17
-7.06 5.65 -0.31 0.12
-6.47 5.65 -0.31 0.03
-5.88 5.65 -0.31 -0.07
-5.29 5.65 -0.31 -0.15
-4.71 5.65 -0.31 -0.18
-4.12 5.65 -0.31 -0.15
-3.53 5.65 -0.31 -0.07
-2.94 5.65 -0.31 0.03
-2.35 5.65 -0.31 0.12
-1.76 5.65 -0.31 0.17
-1.18 5.65 -0.31 0.16
-0.59 5.65 -0.31 0.1
0 5.65 -0.31 0
0.59 5.65 -0.31 -0.1
1.18 5.65 -0.31 -0.16
1.76 5.65 -0.31 -0.17
2.35 5.65 -0.31 -0.12
2.94 5.65 -0.31 -0.03
3.53 5.65 -0.31 0.07
4.12 5.65 -0.31 0.15
4.71 5.65 -0.31 0.18
5.29 5.65 -0.31 0.15
5.88 5.65 -0.31 0.07
6.47 5.65 -0.31 -0.03
7.06 5.65 -0.31 -0.12
7.65 5.65 -0.31 -0.17
8.24 5.65 -0.31 -0.16
8.82 5.65 -0.31 -0.1
9.41 5.65 -0.31 0
10 5.65 -0.31 0.1
-10 6.12 -0.34 -0.1
-9.41 6.12 -0.34 0
-8.82 6.12 -0.34 0.1
-8.24 6.12 -0.34 0.16
-7.65 6.12 -0.34 0.17
-7.06 6.12 -0.34 0.12
-6.47 6.12 -0.34 0.03
-5.88 6.12 -0.34 -0.07
-5.29 6.12 -0.34 -0.15
-4.71 6.12 -0.34 -0.18
-4.12 6.12 -0.34 -0.15
-3.53 6.12 -0.34 -0.07
-2.94 6.12 -0.34 0.03
-2.35 6.12 -0.34 0.12
-1.76 6.12 -0.34 0.17
-1.18 6.12 -0.34 0.16
-0.59 6.12 -0.34 0.1
0 6.12 -0.34 0
0.59 6.12 -0.34 -0.1
1.18 6.12 -0.34 -0.16
1.76 6.12 -0.34 -0.17
2.35 6.12 -0.34 -0.12
2.94 6.12 -0.34 -0.03
3.53 6.12 -0.34 0.07
4.12 6.12 -0.34 0.15
4.71 6.12 -0.34 0.18
5.29 6.12 -0.34 0.15
5.88 6.12 -0.34 0.07
6.47 6.12 -0.34 -0.03
7.06 6.12 -0.34 -0.12
7.65 6.12 -0.34 -0.17
8.24 6.12 -0.34 -0.16
8.82 6.12 -0.34 -0.1
9.41 6.12 -0.34 0
10 6.12 -0.34 0.1
-10 6.59 -0.36 -0.1
-9.41 6.59 -0.36 0
-8.82 6.59 -0.36 0.1
-8.24 6.59 -0.36 0.16
-7.65 6.59 -0.36 0.17
-7.06 6.59 -0.36 0.12
-6.47 6.59 -0.36 0.03
-5.88 6.59 -0.36 -0.07
-5.29 6.59 -0.36 -0.15
-4.71 6.59 -0.36 -0.18
-4.12 6.59 -0.36 -0.15
-3.53 6.59 -0.36 -0.07
-2.94 6.59 -0.36 0.03
-2.35 6.59 -0.36 0.12
-1.76 6.59 -0.36 0.17
-1.18 6.59 -0.36 0.16
-0.59 6.59 -0.36 0.1
0 6.59 -0.36 0
0.59 6.59 -0.36 -0.1
1.18 6.59 -0.36 -0.16
1.76 6.59 -0.36 -0.17
2.35 6.59 -0.36 -0.12
2.94 6.59 -0.36 -0.03
3.53 6.59 -0.36 0.07
4.12 6.59 -0.36 0.15
4.71 6.59 -0.36 0.18
5.29 6.59 -0.36 0.15
5.88 6.59 -0.36 0.07
6.47 6.59 -0.36 -0.03
7.06 6.59 -0.36 -0.12
7.65 6.59 -0.36 -0.17
8.24 6.59 -0.36 -0.16
8.82 6.59 -0.36 -0.1
9.41 6.59 -0.36 0
10 6.59 -0.36 0.1
-10 7.06 -0.39 0.05
-9.41 7.06 -0.39 0
-8.82 7.06 -0.39 -0.05
-8.24 7.06 -0.39 -0.08
-7.65 7.06 -0.39 -0.09
-7.06 7.06 -0.39 -0.06
-6.47 7.06 -0.39 -0.02
-5.88 7.06 -0.39 0.03
-5.29 7.06 -0.39 0.07
-4.71 7.06 -0.39 0.09
-4.12 7.06 -0.39 0.07
-3.53 7.06 -0.39 0.03
-2.94 7.06 -0.39 -0.02
-2.35 7.06 -0.39 -0.06
-1.76 7.06 -0.39 -0.09
-1.18 7.06 -0.39 -0.08
-0.59 7.06 -0.39 -0.05
0 7.06 -0.39 0
0.59 7.06 -0.39 0.05
1.18 7.06 -0.39 0.08
1.76 7.06 -0.39 0.09
2.35 7.06 -0.39 0.06
2.94 7.06 -0.39 0.02
3.53 7.06 -0.39 -0.03
4.12 7.06 -0.39 -0.07
4.71 7.06 -0.39 -0.09
5.29 7.06 -0.39 -0.07
5.88 7.06 -0.39 -0.03
6.47 7.06 -0.39 0.02
7.06 7.06 -0.39 0.06
7.65 7.06 -0.39 0.09
8.24 7.06 -0.39 0.08
8.82 7.06 -0.39 0.05
9.41 7.06 -0.39 0
10 7.06 -0.39 -0.05
-10 7.53 -0.41 0.05
-9.41 7.53 -0.41 0
-8.82 7.53 -0.41 -0.05
-8.24 7.53 -0.41 -0.08
-7.65 7.53 -0.41 -0.09
-7.06 7.53 -0.41 -0.06
-6.47 7.53 -0.41 -0.02
-5.88 7.53 -0.41 0.03
-5.29 7.53 -0.41 0.07
-4.71 7.53 -0.41 0.09
-4.12 7.53 -0.41 0.07
-3.53 7.53 -0.41 0.03
-2.94 7.53 -0.41 -0.02
-2.35 7.53 -0.41 -0.06
-1.76 7.53 -0.41 -0.09
-1.18 7.53 -0.41 -0.08
-0.59 7.53 -0.41 -0.05
0 7.53 -0.41 0
0.59 7.53 -0.41 0.05
1.18 7.53 -0.41 0.08
1.76 7.53 -0.41 0.09
2.35 7.53 -0.41 0.06
2.94 7.53 -0.41 0.02
3.53 7.53 -0.41 -0.03
4.12 7.53 -0.41 -0.07
4.71 7.53 -0.41 -0.09
5.29 7.53 -0.41 -0.07
5.88 7.53 -0.41 -0.03
6.47 7.53 -0.41 0.02
7.06 7.53 -0.41 0.06
7.65 7.53 -0.41 0.09
8.24 7.53 -0.41 0.08
8.82 7.53 -0.41 0.05
9.41 7.53 -0.41 0
10 7.53 -0.41 -0.05
-10 8 -0.44 0.05
-9.41 8 -0.44 0
-8.82 8 -0.44 -0.05
-8.24 8 -0.44 -0.08
-7.65 8 -0.44 -0.09
-7.06 8 -0.44 -0.06
-6.47 8 -0.44 -0.02
-5.88 8 -0.44 0.03
-5.29 8 -0.44 0.07
-4.71 8 -0.44 0.09
-4.12 8 -0.44 0.07
-3.53 8 -0.44 0.03
-2.94 8 -0.44 -0.02
-2.35 8 -0.44 -0.06
-1.76 8 -0.44 -0.09
-1.18 8 -0.44 -0.08
-0.59 8 -0.44 -0.05
0 8 -0.44 0
0.59 8 -0.44 0.05
1.18 8 -0.44 0.08
1.76 8 -0.44 0.09
2.35 8 -0.44 0.06
2.94 8 -0.44 0.02
3.53 8 -0.44 -0.03
4.12 8 -0.44 -0.07
4.71 8 -0.44 -0.09
5.29 8 -0.44 -0.07
5.88 8 -0.44 -0.03
6.47 8 -0.44 0.02
7.06 8 -0.44 0.06
7.65 8 -0.44 0.09
8.24 8 -0.44 0.08
8.82 8 -0.44 0.05
9.41 8 -0.44 0
10 8 -0.44 -0.05
};
\addplot[traj,line width=3.5pt,smooth,tension=0.45,line join=round,line cap=round] coordinates {
(-8.589,4.781) (-8.713,5.146) (-8.766,5.511) (-8.749,5.766) (-8.696,5.985) (-8.607,6.131) (-8.501,6.204) (-8.289,6.277) (-8.077,6.314) (-7.812,6.296) (-7.547,6.241) (-7.317,6.186) (-7.087,6.131) (-6.840,5.985) (-6.610,5.876) (-6.504,5.803) (-5.974,5.401) (-5.497,4.964) (-5.073,4.489) (-4.667,3.942) (-4.260,3.358) (-3.854,2.737) (-3.447,2.080) (-3.023,1.387) (-2.687,0.876) (-2.405,0.438) (-2.140,0.109) (-1.928,-0.109) (-1.786,-0.182) (-1.698,-0.201) (-1.627,-0.146) (-1.556,-0.036) (-1.521,0.109) (-1.503,0.401) (-1.539,0.766) (-1.662,1.387) (-1.804,2.007) (-1.981,2.591) (-2.157,3.212) (-2.281,3.832) (-2.387,4.416) (-2.475,4.964) (-2.528,5.401) (-2.546,5.730) (-2.511,5.985) (-2.422,6.131) (-2.281,6.204)
(-2.069,6.277) (-1.857,6.314) (-1.592,6.296) (-1.327,6.241) (-1.097,6.186) (-0.867,6.131) (-0.620,5.985) (-0.390,5.876) (-0.284,5.803) (0.246,5.401) (0.723,4.964) (1.147,4.489) (1.553,3.942) (1.960,3.358) (2.366,2.737) (2.773,2.080) (3.197,1.387) (3.533,0.876) (3.815,0.438) (4.080,0.109) (4.292,-0.109) (4.434,-0.182) (4.522,-0.201) (4.593,-0.146) (4.664,-0.036) (4.699,0.109) (4.717,0.401) (4.681,0.766) (4.558,1.387) (4.416,2.007) (4.239,2.591) (4.063,3.212) (3.939,3.832) (3.833,4.416) (3.745,4.964) (3.692,5.401) (3.674,5.730) (3.709,5.985) (3.798,6.131) (3.939,6.204)
(4.151,6.277) (4.363,6.314) (4.628,6.296) (4.893,6.241) (5.123,6.186) (5.353,6.131) (5.600,5.985) (5.830,5.876) (5.936,5.803) (6.466,5.401) (6.943,4.964) (7.367,4.489) (7.773,3.942) (8.180,3.358) (8.586,2.737) (8.993,2.080) (9.417,1.387) (9.753,0.876) (10.035,0.438) (10.088,0.33)
};
\end{axis}
\pgfresetboundingbox
\path (0,0) rectangle (1292pt,700pt);
\end{tikzpicture}
\end{document}
